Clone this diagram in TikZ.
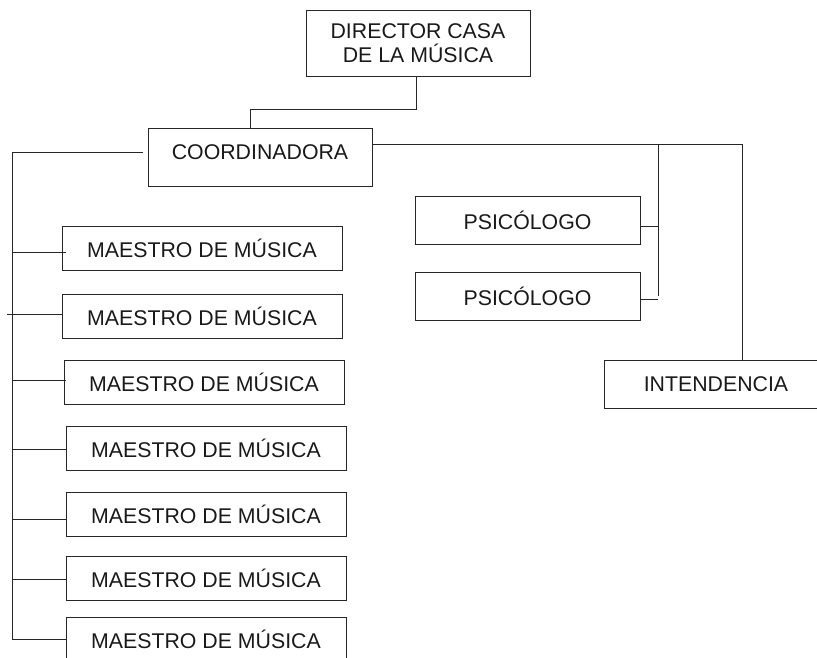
\documentclass[tikz,border=0pt]{standalone}
\usepackage{fontspec}
\setmainfont{Liberation Sans}
\begin{document}
\begin{tikzpicture}[x=1pt,y=-1pt,
  line/.style={draw=black!85,line width=0.9pt},
  box/.style={rectangle,draw=black!85,line width=0.9pt,inner sep=0pt,align=center,
    font=\fontsize{21.3}{24.3}\selectfont,text=black!90},
  mbox/.style={box,minimum width=280pt,minimum height=44pt},
  pbox/.style={box,minimum width=225pt,minimum height=48pt}]
\useasboundingbox (0,0) rectangle (817,657);
\clip (0,0) rectangle (817,657);
% top
\node[box,minimum width=224pt,minimum height=66pt] (dir) at (418,43) {DIRECTOR CASA\\DE LA MÚSICA};
\node[box,minimum width=224pt,minimum height=58pt,text depth=10pt] (coord) at (260,157) {COORDINADORA};
% right side
\node[pbox] (psi1) at (527.5,220) {PSICÓLOGO};
\node[pbox] (psi2) at (527.5,296) {PSICÓLOGO};
\node[pbox,minimum width=224pt] (int) at (716,384) {INTENDENCIA};
% maestros
\node[mbox] (m1) at (202,248) {MAESTRO DE MÚSICA};
\node[mbox] (m2) at (202,316) {MAESTRO DE MÚSICA};
\node[mbox] (m3) at (204,382) {MAESTRO DE MÚSICA};
\node[mbox] (m4) at (206,448) {MAESTRO DE MÚSICA};
\node[mbox] (m5) at (206,514) {MAESTRO DE MÚSICA};
\node[mbox] (m6) at (206,578) {MAESTRO DE MÚSICA};
\node[mbox] (m7) at (206,639) {MAESTRO DE MÚSICA};
% coordinates
\coordinate (dturn) at (416,109);
\coordinate (cturn) at (250,109);
\coordinate (cleft) at (143,152);
\coordinate (bus) at (12,152);
\coordinate (busend) at (12,639);
\coordinate (rbus) at (658,144);
\coordinate (rend) at (742,144);
\coordinate (tick) at (7,318);
% connectors
\draw[line] (dir.south -| dturn) -- (dturn) -- (cturn) -- (cturn |- coord.north);
\draw[line] (coord.east |- rend) -- (rend) -- (int.north -| rend);
\draw[line] (rbus) -- (rbus |- psi2.east);
\draw[line] ([yshift=-6pt]psi1.east) -- ([yshift=-6pt]psi1.east -| rbus);
\draw[line] ([yshift=-3pt]psi2.east) -- ([yshift=-3pt]psi2.east -| rbus);
\draw[line] (cleft) -- (bus) -- (busend) -- (m7.west |- busend);
\draw[line] ([yshift=-4pt,xshift=4pt]m1.west) -- ([yshift=-4pt]m1.west -| bus);
\draw[line] ([yshift=2pt]m2.west) -- ([yshift=2pt]m2.west -| tick);
\draw[line] ([yshift=2pt,xshift=2pt]m3.west) -- ([yshift=2pt]m3.west -| bus);
\draw[line] ([yshift=-1pt]m4.west) -- ([yshift=-1pt]m4.west -| bus);
\draw[line] ([yshift=-5pt]m5.west) -- ([yshift=-5pt]m5.west -| bus);
\draw[line] ([yshift=-1pt]m6.west) -- ([yshift=-1pt]m6.west -| bus);
\end{tikzpicture}
\end{document}
